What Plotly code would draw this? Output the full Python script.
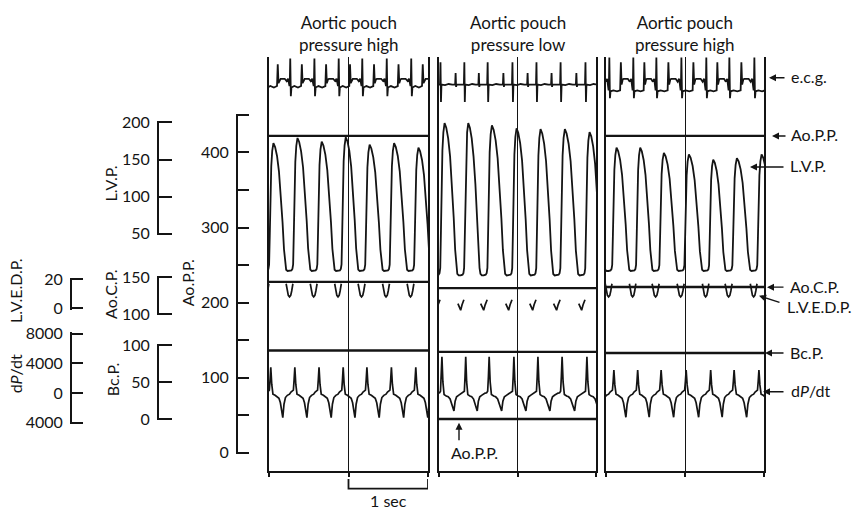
import plotly.graph_objects as go

W, H = 862, 518
FONT = "Lato"
INK = "#141414"

# ======================= DATA (read from the recording) =======================
panel_title_top = ["Aortic pouch", "Aortic pouch", "Aortic pouch"]
panel_title_bottom = ["pressure high", "pressure low", "pressure high"]

# times (s) of the LVP troughs (end-diastole) in each 2-s panel
trough_t_p1 = [-0.044, 0.258, 0.562, 0.868, 1.164, 1.472, 1.780, 2.082]
trough_t_p2 = [-0.030, 0.276, 0.569, 0.887, 1.193, 1.498, 1.817, 2.123]
trough_t_p3 = [-0.270, 0.033, 0.337, 0.628, 0.945, 1.261, 1.552, 1.869, 2.173]

# L.V.P. (mmHg): peak of each beat and diastolic trough level
lvp_peak_p1 = [172, 179, 174, 180, 170, 172, 166]
lvp_peak_p2 = [199, 199, 196, 192, 191, 191, 187]
lvp_peak_p3 = [160, 166, 166, 159, 157, 150, 152, 157]
lvp_trough = [0, -6, 0]
# one LVP beat: fraction of (peak - trough) against phase of the beat
lvp_shape_phase = [0.00, 0.08, 0.12, 0.15, 0.18, 0.21, 0.24, 0.28, 0.33, 0.40,
                   0.48, 0.56, 0.64, 0.71, 0.77, 0.82, 0.86, 0.92, 1.00]
lvp_shape_frac = [0.00, 0.005, 0.015, 0.05, 0.30, 0.62, 0.82, 0.94, 1.00, 0.97,
                  0.90, 0.78, 0.60, 0.38, 0.17, 0.05, 0.01, 0.00, 0.00]

# e.c.g. (arbitrary units) over one beat
ecg_phase_p1 = [0.00, 0.01, 0.03, 0.055, 0.08, 0.20, 0.35, 0.48, 0.51, 0.54, 0.59, 0.63, 0.80, 0.88, 0.94, 1.00]
ecg_val_p1 = [0.05, 0.1, 1.0, -0.3, 0.0, 0.05, 0.0, 0.05, 0.8, 0.15, 0.28, 0.3, 0.3, 0.22, 0.3, 0.05]
ecg_phase_p2 = [0.00, 0.14, 0.16, 0.18, 0.20, 0.35, 0.50, 0.65, 0.77, 0.79, 0.81, 0.83, 1.00]
ecg_val_p2 = [0.1, 0.1, 0.87, -0.5, 0.1, 0.08, 0.12, 0.1, 0.1, 0.5, 0.02, 0.1, 0.1]
ecg_phase_p3 = [0.00, 0.01, 0.03, 0.055, 0.08, 0.20, 0.35, 0.48, 0.51, 0.54, 0.59, 0.63, 0.80, 0.88, 0.94, 1.00]
ecg_val_p3 = [-0.1, -0.05, 1.03, -0.37, -0.13, -0.1, -0.13, -0.1, 0.87, 0.1, 0.28, 0.3, 0.3, 0.2, 0.3, -0.1]

# dP/dt (mmHg/s) over one beat
dpdt_phase = [0.00, 0.06, 0.12, 0.16, 0.19, 0.22, 0.26, 0.31, 0.40, 0.48, 0.56, 0.62, 0.67, 0.72, 0.77, 0.83, 0.91, 1.00]
dpdt_val_p1 = [-150, 150, 250, 400, 1800, 3480, 1200, -150, -300, -450, -700, -1300, -2200, -3300, -1500, -600, -300, -150]
dpdt_val_p2 = [-100, 0, 50, 250, 2200, 4900, 1500, -200, -400, -500, -800, -1300, -1800, -2400, -1100, -500, -300, -100]
dpdt_val_p3 = [-150, 150, 250, 400, 1600, 3100, 1100, -150, -300, -450, -700, -1300, -2200, -3250, -1500, -600, -300, -150]

# L.V.E.D.P. (high gain, mmHg) around each LVP trough (offset in beat periods)
lvedp_offset_p13 = [-0.14, -0.09, -0.05, 0.00, 0.05, 0.09, 0.14]
lvedp_val_p13 = [17, 12, 9, 8, 9, 12, 17]
lvedp_offset_p2 = [-0.12, -0.05, 0.00, 0.06, 0.14]
lvedp_val_p2 = [3.3, 0.0, -1.2, 2.5, 6.0]

# steady pressures (mmHg) per panel
aopp_level = [422, 45, 422]
aocp_level = [144, 135.5, 137]
bcp_level = [93, 91, 89.5]

# calibration scales
aopp_ticks = [0, 50, 100, 150, 200, 250, 300, 350, 400, 450]
aopp_ticktext = ["0", "", "100", "", "200", "", "300", "", "400", ""]
lvp_ticks = [50, 100, 150, 200]
aocp_ticks = [100, 150]
bcp_ticks = [0, 50, 100]
lvedp_ticks = [0, 20]
dpdt_ticks = [-4000, 0, 4000, 8000]
dpdt_ticktext = ["4000", "0", "4000", "8000"]
time_ticks = [0, 1, 2]
scale_bar_s = [1.0, 2.0]

# ======================= LAYOUT GEOMETRY (pixels) =======================
panels_px = [(269, 428), (439, 596), (606, 764)]
frame_top, frame_bottom = 50, 477
# value -> pixel calibration of each channel: (v1, py1, v2, py2)
cal = {
    "ecg": (0, 81, 1, 51),
    "lvp": (50, 232, 200, 117),
    "aopp": (0, 458, 400, 148),
    "aocp": (100, 315, 150, 277),
    "lvedp": (0, 309, 20, 279),
    "bcp": (0, 423, 100, 347),
    "dpdt": (-4000, 427, 8000, 335),
}


def yf(py):
    return 1 - py / H


def xf(px):
    return px / W


def kpx(c):
    v1, p1, v2, p2 = cal[c]
    return (p1 - p2) / (v2 - v1)


def full_range(c):
    v1, p1, v2, p2 = cal[c]
    k = kpx(c)
    return [v1 - (H - p1) / k, v1 + p1 / k]


def px_of(c, v):
    v1, p1, v2, p2 = cal[c]
    return p1 - (v - v1) * kpx(c)


def beat_series(troughs, phase, vals_per_beat):
    xs, ys = [], []
    for i in range(len(troughs) - 1):
        t0, t1 = troughs[i], troughs[i + 1]
        for j, (p, v) in enumerate(zip(phase, vals_per_beat[i])):
            if i > 0 and j == 0:
                continue
            xs.append(t0 + p * (t1 - t0))
            ys.append(v)
    return xs, ys


def around_troughs(troughs, offs, vals):
    xs, ys = [], []
    for i, t in enumerate(troughs):
        if i < len(troughs) - 1:
            per = troughs[i + 1] - t
        else:
            per = t - troughs[i - 1]
        for o, v in zip(offs, vals):
            xs.append(t + o * per)
            ys.append(v)
        xs.append(None)
        ys.append(None)
    return xs, ys


fig = go.Figure()

troughs = [trough_t_p1, trough_t_p2, trough_t_p3]
peaks = [lvp_peak_p1, lvp_peak_p2, lvp_peak_p3]
ecg_ph = [ecg_phase_p1, ecg_phase_p2, ecg_phase_p3]
ecg_v = [ecg_val_p1, ecg_val_p2, ecg_val_p3]
dpdt_v = [dpdt_val_p1, dpdt_val_p2, dpdt_val_p3]

ch_axis = {"ecg": "y2", "lvp": "y3", "aopp": "y4", "aocp": "y5", "lvedp": "y6", "bcp": "y7", "dpdt": "y8"}


def line(xs, ys, xa, ya, w):
    fig.add_trace(go.Scatter(x=xs, y=ys, xaxis=xa, yaxis=ya, mode="lines",
                             line=dict(color=INK, width=w), hoverinfo="skip",
                             showlegend=False, connectgaps=False))


for k in range(3):
    xa = "x" if k == 0 else f"x{k + 1}"
    tr = troughs[k]
    nb = len(tr) - 1
    xs, ys = beat_series(tr, ecg_ph[k], [ecg_v[k]] * nb)
    line(xs, ys, xa, ch_axis["ecg"], 1.8)
    lv = [[lvp_trough[k] + f * (peaks[k][i] - lvp_trough[k]) for f in lvp_shape_frac] for i in range(nb)]
    xs, ys = beat_series(tr, lvp_shape_phase, lv)
    line(xs, ys, xa, ch_axis["lvp"], 1.8)
    xs, ys = beat_series(tr, dpdt_phase, [dpdt_v[k]] * nb)
    line(xs, ys, xa, ch_axis["dpdt"], 1.7)
    if k == 1:
        xs, ys = around_troughs(tr, lvedp_offset_p2, lvedp_val_p2)
    else:
        xs, ys = around_troughs(tr, lvedp_offset_p13, lvedp_val_p13)
    line(xs, ys, xa, ch_axis["lvedp"], 1.7)
    line([0, 2], [aopp_level[k]] * 2, xa, ch_axis["aopp"], 2.4)
    line([0, 2], [aocp_level[k]] * 2, xa, ch_axis["aocp"], 2.4)
    line([0, 2], [bcp_level[k]] * 2, xa, ch_axis["bcp"], 2.4)

# dummy traces so the frame and scale subplots exist
for xa in ["x4", "x5", "x6"]:
    fig.add_trace(go.Scatter(x=[0], y=[-5], xaxis=xa, yaxis="y", mode="markers",
                             marker=dict(opacity=0), hoverinfo="skip", showlegend=False))
for ya in ["y9", "y10", "y11", "y12", "y13", "y14"]:
    fig.add_trace(go.Scatter(x=[-5], y=[0], xaxis="x", yaxis=ya, mode="markers",
                             marker=dict(opacity=0), hoverinfo="skip", showlegend=False))

lay = dict(
    width=W, height=H, margin=dict(l=0, r=0, t=0, b=0),
    paper_bgcolor="white", plot_bgcolor="rgba(0,0,0,0)",
    font=dict(family=FONT, size=16, color=INK),
    showlegend=False,
)

for k, (a, b) in enumerate(panels_px):
    n = k + 1
    lay["xaxis" if n == 1 else f"xaxis{n}"] = dict(
        domain=[xf(a), xf(b)], range=[0, 2], visible=False, anchor="y", fixedrange=True)
    lay[f"xaxis{n + 3}"] = dict(
        domain=[xf(a), xf(b)], range=[0, 2], anchor="y", showline=True, linecolor=INK, linewidth=2,
        ticks="outside", ticklen=4, tickwidth=1.5, tickcolor=INK, tickvals=time_ticks,
        showticklabels=False, showgrid=True, gridcolor=INK, gridwidth=1.4, zeroline=False,
        fixedrange=True)

lay["yaxis"] = dict(domain=[yf(frame_bottom), yf(frame_top)], range=[0, 1], anchor="x4",
                    showline=True, mirror="all", linecolor=INK, linewidth=1.6,
                    ticks="", showticklabels=False, showgrid=False, zeroline=False, fixedrange=True)

for c, ya in ch_axis.items():
    n = int(ya[1:])
    lay[f"yaxis{n}"] = dict(domain=[0, 1], range=full_range(c), visible=False, anchor="x", fixedrange=True)

scales = [
    ("aopp", 0, 450, 237, aopp_ticks, aopp_ticktext, 11, 9),
    ("lvp", 50, 200, 158, lvp_ticks, [str(v) for v in lvp_ticks], 13, 10),
    ("aocp", 100, 150, 158, aocp_ticks, [str(v) for v in aocp_ticks], 13, 11),
    ("bcp", 0, 100, 158, bcp_ticks, [str(v) for v in bcp_ticks], 13, 12),
    ("lvedp", 0, 20, 71, lvedp_ticks, [str(v) for v in lvedp_ticks], 11, 13),
    ("dpdt", -4000, 8000, 71, dpdt_ticks, dpdt_ticktext, 11, 14),
]
PAD = 1.2
for c, vmin, vmax, xpx, tv, tt, tl, n in scales:
    k = kpx(c)
    lay[f"yaxis{n}"] = dict(
        domain=[yf(px_of(c, vmin) + PAD), yf(px_of(c, vmax) - PAD)],
        range=[vmin - PAD / k, vmax + PAD / k],
        anchor="free", position=xf(xpx), side="left",
        showline=True, linecolor=INK, linewidth=2,
        ticks="inside", ticklen=tl, tickwidth=2, tickcolor=INK,
        tickvals=tv, ticktext=tt, tickfont=dict(family=FONT, size=16, color=INK),
        ticklabelstandoff=4, showgrid=False, zeroline=False, fixedrange=True)

fig.update_layout(**lay)

ann = []
for k, (a, b) in enumerate(panels_px):
    cx = xf((a + b) / 2)
    ann.append(dict(x=cx, y=yf(25), xref="paper", yref="paper",
                    text=panel_title_top[k] + "<br>" + panel_title_bottom[k],
                    showarrow=False, xanchor="center", yanchor="middle", font=dict(size=17)))


def arrow(hx, hy, tx, ty):
    return dict(x=xf(hx), y=yf(hy), ax=tx - hx, ay=ty - hy, xref="paper", yref="paper",
                axref="pixel", ayref="pixel", text="", showarrow=True, arrowhead=2,
                arrowsize=1, arrowwidth=1.4, arrowcolor=INK)


right_labels = [
    ("e.c.g.", 769, 71, 786, 71, 789, 70),
    ("Ao.P.P.", 772, 131, 787, 131, 789, 130),
    ("L.V.P.", 750, 163, 785, 163, 788, 162),
    ("Ao.C.P.", 767, 287, 785, 287, 788, 286),
    ("L.V.E.D.P.", 759, 296, 781, 303, 785, 307),
    ("Bc.P.", 765, 355, 785, 355, 788, 354),
    ("d<i>P</i>/dt", 763, 395, 785, 395, 789, 394),
]
for t, hx, hy, tx, ty, lx, ly in right_labels:
    ann.append(arrow(hx, hy, tx, ty))
    ann.append(dict(x=xf(lx), y=yf(ly), xref="paper", yref="paper", text=t, showarrow=False,
                    xanchor="left", yanchor="middle", font=dict(size=16)))

ann.append(arrow(459, 427, 459, 446))
ann.append(dict(x=xf(449), y=yf(458), xref="paper", yref="paper", text="Ao.P.P.", showarrow=False,
                xanchor="left", yanchor="middle", font=dict(size=16)))

left_labels = [
    ("L.V.P.", 110, 180),
    ("Ao.C.P.", 111, 294),
    ("Ao.P.P.", 187, 283),
    ("Bc.P.", 112, 383),
    ("L.V.E.D.P.", 15, 291),
    ("d<i>P</i>/dt", 15, 377),
]
for t, x, y in left_labels:
    ann.append(dict(x=xf(x), y=yf(y), xref="paper", yref="paper", text=t, showarrow=False,
                    textangle=-90, xanchor="center", yanchor="middle", font=dict(size=16)))

ann.append(dict(x=(scale_bar_s[0] + scale_bar_s[1]) / 2, y=yf(507), xref="x", yref="paper",
                text="1 sec", showarrow=False, xanchor="center", yanchor="middle", font=dict(size=16)))
fig.update_layout(annotations=ann)

b0, b1 = scale_bar_s
fig.add_shape(type="path", xref="x", yref="paper",
              path=f"M{b0},{yf(485)} L{b0},{yf(495)} L{b1},{yf(495)} L{b1},{yf(485)}",
              line=dict(color=INK, width=1.8))

fig.write_html("out.html",
               post_script="document.body.style.margin='0';document.body.style.padding='0';")
